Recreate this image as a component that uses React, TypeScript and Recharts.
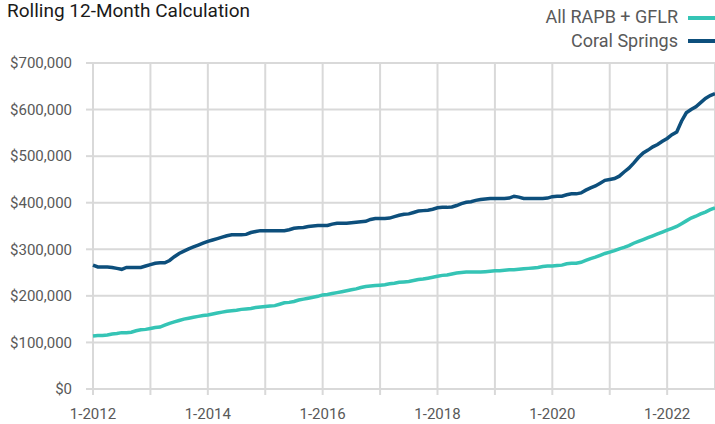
import React from "react";
import { LineChart, Line, XAxis, YAxis, CartesianGrid } from "recharts";

// Rolling 12-month values in $ thousands, monthly from 1-2012 through 11-2022
const coralSprings = [
  266, 262, 262, 262, 261, 259, 257, 261, 261, 261, 261, 264,
  267, 270, 271, 271, 276, 284, 291, 296, 301, 305, 309, 313,
  317, 320, 323, 326, 329, 331, 331, 331, 332, 336, 338, 340,
  340, 340, 340, 340, 340, 342, 345, 346, 347, 349, 350, 351,
  351, 351, 354, 356, 356, 356, 357, 358, 359, 360, 364, 366,
  366, 366, 367, 370, 373, 375, 376, 379, 382, 383, 384, 386,
  389, 390, 390, 391, 394, 398, 401, 402, 405, 407, 408, 409,
  409, 409, 409, 410, 414, 412, 409, 409, 409, 409, 409, 410,
  413, 414, 414, 417, 419, 419, 421, 427, 432, 436, 442, 448,
  450, 452, 457, 466, 474, 485, 497, 507, 513, 520, 525, 532,
  538, 546, 552, 575, 593, 600, 606, 615, 624, 630, 634,
];

const allRapbGflr = [
  114, 115, 115, 116, 118, 119, 121, 121, 122, 125, 127, 128,
  130, 132, 133, 137, 141, 144, 147, 150, 152, 154, 156, 158,
  159, 161, 163, 165, 167, 168, 169, 171, 172, 173, 175, 176,
  177, 178, 179, 182, 185, 186, 188, 191, 193, 195, 197, 199,
  202, 203, 205, 207, 209, 211, 213, 215, 218, 220, 221, 222,
  223, 224, 226, 227, 229, 230, 231, 233, 235, 236, 238, 240,
  242, 244, 245, 247, 249, 250, 251, 251, 251, 251, 252, 253,
  254, 254, 255, 256, 256, 257, 258, 259, 260, 261, 263, 264,
  264, 265, 266, 269, 270, 270, 272, 276, 280, 283, 287, 291,
  294, 297, 301, 304, 308, 313, 317, 321, 325, 329, 333, 337,
  341, 345, 349, 355, 361, 367, 371, 376, 380, 385, 389,
];

// one tick per January, labels every other year
const xTickLabels = [
  "1-2012", "", "1-2014", "", "1-2016", "", "1-2018", "", "1-2020", "", "1-2022",
];

const yTicks = [0, 100000, 200000, 300000, 400000, 500000, 600000, 700000];

const TEAL = "#35c4b5";
const NAVY = "#0d4f7c";
const GRID = "#d9d9d9";
const FONT = "Roboto, sans-serif";

const data = coralSprings.map((v, i) => ({
  month: i,
  coral: v * 1000,
  all: allRapbGflr[i] * 1000,
}));

const xTicks = xTickLabels.map((_, i) => i * 12);

export default function App() {
  return (
    <div
      style={{
        position: "absolute",
        left: 0,
        top: 0,
        width: 715,
        height: 424,
        overflow: "hidden",
        background: "#fff",
        fontFamily: FONT,
      }}
    >
      <div
        style={{
          position: "absolute",
          left: 7,
          top: 1,
          fontSize: 19,
          lineHeight: "19px",
          color: "#1a1a1a",
          whiteSpace: "nowrap",
        }}
      >
        Rolling 12-Month Calculation
      </div>

      {[
        { label: "All RAPB + GFLR", color: TEAL, top: 8 },
        { label: "Coral Springs", color: NAVY, top: 31.5 },
      ].map((item) => (
        <div key={item.label}>
          <div
            style={{
              position: "absolute",
              right: 715 - 678,
              top: item.top,
              fontSize: 18,
              lineHeight: "18px",
              color: "#595959",
              whiteSpace: "nowrap",
            }}
          >
            {item.label}
          </div>
          <div
            style={{
              position: "absolute",
              left: 688,
              top: item.top + 7.5,
              width: 27,
              height: 4,
              background: item.color,
            }}
          />
        </div>
      ))}

      <LineChart
        width={715}
        height={424}
        data={data}
        margin={{ top: 63, right: 0, bottom: 0, left: 0 }}
      >
        <CartesianGrid stroke={GRID} strokeWidth={2} />
        <XAxis
          dataKey="month"
          type="number"
          domain={[0, 130]}
          ticks={xTicks}
          interval={0}
          tickFormatter={(v: number) => xTickLabels[v / 12] ?? ""}
          height={35}
          axisLine={false}
          tickLine={{ stroke: GRID, strokeWidth: 2 }}
          tickSize={6}
          tickMargin={13}
          tick={{ fill: "#595959", fontSize: 15, fontFamily: FONT }}
        />
        <YAxis
          domain={[0, 700000]}
          ticks={yTicks}
          interval={0}
          width={93}
          axisLine={false}
          tickLine={{ stroke: GRID, strokeWidth: 2 }}
          tickSize={7}
          tickMargin={14}
          tickFormatter={(v: number) => "$" + v.toLocaleString("en-US")}
          tick={{ fill: "#595959", fontSize: 15, fontFamily: FONT }}
        />
        <Line
          dataKey="all"
          stroke={TEAL}
          strokeWidth={3.5}
          dot={false}
          isAnimationActive={false}
        />
        <Line
          dataKey="coral"
          stroke={NAVY}
          strokeWidth={3.5}
          dot={false}
          isAnimationActive={false}
        />
      </LineChart>
    </div>
  );
}
